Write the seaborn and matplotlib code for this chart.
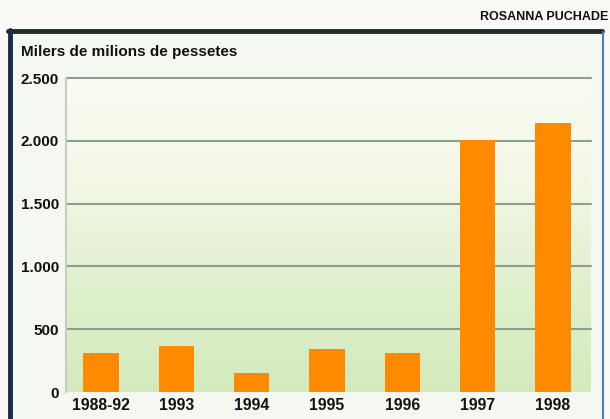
import matplotlib.pyplot as plt
import numpy as np
import seaborn as sns
from matplotlib.colors import LinearSegmentedColormap
from matplotlib.patches import Rectangle
from matplotlib.lines import Line2D

# Data
periods = ['1988-92', '1993', '1994', '1995', '1996', '1997', '1998']
amounts = [310, 365, 155, 340, 310, 2005, 2140]  # milers de milions de pessetes
ytick_values = [0, 500, 1000, 1500, 2000, 2500]
ytick_labels = ['0', '500', '1.000', '1.500', '2.000', '2.500']

sns.set_style('white')
plt.rcParams['font.family'] = ['Liberation Sans Narrow', 'Liberation Sans', 'DejaVu Sans']

fig = plt.figure(figsize=(6.1, 4.19), dpi=100)
fig.patch.set_facecolor('#fbf9f6')

W, H = 610, 419
def fx(px):
    return px / W
def fy(py):
    return 1 - py / H

# frame panel
fig.add_artist(Rectangle((fx(10), 0), fx(603) - fx(10), fy(31), transform=fig.transFigure,
                         facecolor='#f5f8f1', edgecolor='none', zorder=0))
fig.add_artist(Line2D([fx(8), fx(602)], [fy(31), fy(31)], transform=fig.transFigure,
                      color='#1f2e2c', lw=3.5))
fig.add_artist(Line2D([fx(10), fx(10)], [0, fy(30)], transform=fig.transFigure,
                      color='#1b2a4c', lw=3.5))
fig.add_artist(Line2D([fx(603), fx(603)], [0, fy(32)], transform=fig.transFigure,
                      color='#4a7dbd', lw=1.5))

ax = fig.add_axes([fx(66), fy(392), fx(591) - fx(66), fy(78) - fy(392)])

sns.barplot(x=periods, y=amounts, color='#ff8a00', saturation=1, width=0.47,
            edgecolor='none', linewidth=0, ax=ax, zorder=3)

xlim = (-0.465, 6.504)
grad = LinearSegmentedColormap.from_list('bg', ['#d4eabd', '#e0f0cd', '#f3f7e6', '#fbfbf3'])
ax.imshow(np.linspace(0, 1, 200).reshape(-1, 1), cmap=grad, origin='lower',
          extent=[xlim[0], xlim[1], 0, 2500], aspect='auto', zorder=0)
ax.set_xlim(*xlim)
ax.set_ylim(0, 2500)

for v in ytick_values[1:]:
    ax.axhline(v, color='#8aa08c', lw=1.5, zorder=1, clip_on=False)

ax.set_yticks(ytick_values)
ax.set_yticklabels(ytick_labels, fontsize=11, fontweight='bold', color='#111111')
ax.tick_params(axis='both', length=0)
ax.tick_params(axis='y', pad=5)
ax.tick_params(axis='x', pad=4)
for lab in ax.get_xticklabels():
    lab.set_fontsize(11.3)
    lab.set_fontweight('bold')
    lab.set_color('#111111')
ax.set_xlabel('')
ax.set_ylabel('')

for side in ['top', 'right', 'bottom']:
    ax.spines[side].set_visible(False)
ax.spines['left'].set_color('#c5ccc4')
ax.spines['left'].set_linewidth(1.5)

fig.text(fx(21), fy(52), 'Milers de milions de pessetes', fontsize=11,
         fontweight='bold', color='#111111', va='center', ha='left')
fig.text(fx(608), fy(17), 'ROSANNA PUCHADE', fontsize=9, fontweight='bold',
         color='#111111', va='center', ha='right')

fig.savefig('out.png', dpi=100)
